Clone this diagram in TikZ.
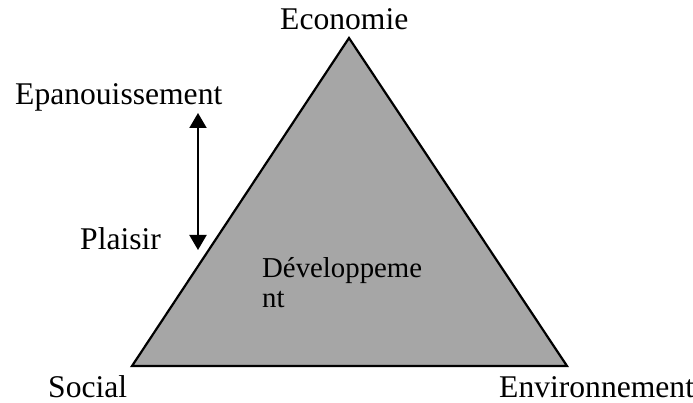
\documentclass[tikz,border=0pt]{standalone}
\usepackage{fontspec}
\setmainfont{Liberation Serif}
\usetikzlibrary{arrows.meta}
\definecolor{trigray}{RGB}{166,166,166}
\begin{document}
\begin{tikzpicture}[x=1pt,y=-1pt,
  lbl/.style={inner sep=0pt,anchor=base west,font=\fontsize{31.6}{36}\selectfont},
  devlbl/.style={inner sep=0pt,anchor=base west,font=\fontsize{28.8}{33}\selectfont},
  tri/.style={draw=black,fill=trigray,line width=2.2pt,line join=miter},
  arr/.style={line width=2pt,{Triangle[length=15pt,width=17pt]}-{Triangle[length=15pt,width=17pt]}}]
\useasboundingbox (0,0) rectangle (693,403);
\coordinate (top) at (349,38);
\coordinate (bl) at (132,366);
\coordinate (br) at (567,366);
\filldraw[tri] (top) -- (br) -- (bl) -- cycle;
\node[lbl] (eco) at (280,30) {Economie};
\node[lbl] (epa) at (15,105) {Epanouissement};
\node[lbl] (pla) at (80,250) {Plaisir};
\node[lbl] (soc) at (48,397) {Social};
\node[lbl] (env) at (499,397) {Environnement};
\node[devlbl] (dev1) at (262,278) {Développeme};
\node[devlbl] (dev2) at (262,307) {nt};
\coordinate (a1) at (198,113);
\coordinate (a2) at (198,250);
\draw[arr] (a1) -- (a2);
\end{tikzpicture}
\end{document}
